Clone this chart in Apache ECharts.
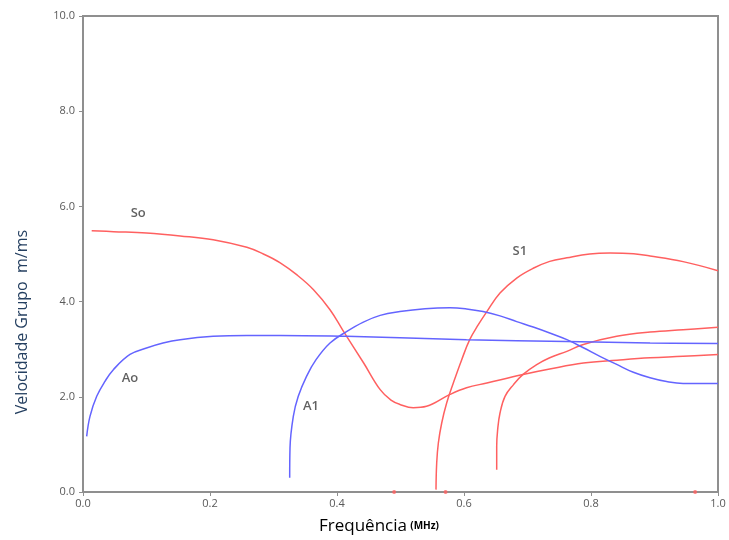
<!DOCTYPE html>
<html>
<head>
<meta charset="utf-8">
<script src="https://cdn.jsdelivr.net/npm/echarts@6/dist/echarts.min.js"></script>
<style>
	html, body { margin: 0; padding: 0; background: #fff; }
	#chart { width: 729px; height: 540px; }
</style>
</head>
<body>
<div id="chart"></div>
<script>
// group velocity dispersion curves, [freq MHz, velocity m/ms]
var s0 = [[0.0137,5.49],[0.048,5.47],[0.100,5.44],[0.153,5.38],[0.205,5.30],[0.258,5.14],[0.284,5.00],[0.310,4.82],[0.337,4.56],[0.363,4.25],[0.389,3.83],[0.410,3.38],[0.442,2.71],[0.468,2.15],[0.485,1.93],[0.499,1.84],[0.520,1.77],[0.541,1.80],[0.578,2.05],[0.604,2.19],[0.636,2.29],[0.693,2.47],[0.735,2.585],[0.788,2.71],[0.841,2.77],[0.893,2.82],[0.945,2.85],[1.0,2.89]];
var s1 = [[0.5559,0.05],[0.557,0.61],[0.5596,1.03],[0.5649,1.45],[0.5727,1.87],[0.5832,2.29],[0.5964,2.78],[0.609,3.20],[0.6226,3.515],[0.636,3.79],[0.6567,4.18],[0.683,4.495],[0.709,4.70],[0.735,4.845],[0.762,4.92],[0.798,5.0],[0.830,5.02],[0.867,5.005],[0.893,4.96],[0.945,4.84],[1.0,4.65]];
var s2 = [[0.6515,0.47],[0.6515,0.96],[0.653,1.31],[0.6567,1.66],[0.6646,2.01],[0.678,2.256],[0.693,2.47],[0.7145,2.676],[0.735,2.82],[0.762,2.955],[0.788,3.10],[0.8405,3.27],[0.893,3.36],[0.945,3.41],[1.0,3.46]];
var a0 = [[0.0058,1.17],[0.011,1.59],[0.0216,2.01],[0.0346,2.325],[0.0478,2.57],[0.074,2.89],[0.100,3.025],[0.126,3.13],[0.153,3.20],[0.205,3.27],[0.258,3.29],[0.310,3.29],[0.415,3.27],[0.499,3.24],[0.604,3.20],[0.762,3.16],[0.893,3.13],[1.0,3.12]];
var a1 = [[0.3255,0.30],[0.326,0.93],[0.3312,1.59],[0.339,2.01],[0.352,2.43],[0.367,2.78],[0.389,3.13],[0.415,3.37],[0.4415,3.57],[0.468,3.71],[0.499,3.79],[0.5386,3.85],[0.578,3.87],[0.604,3.845],[0.630,3.79],[0.6567,3.70],[0.683,3.58],[0.709,3.465],[0.735,3.34],[0.762,3.20],[0.788,3.03],[0.814,2.85],[0.8405,2.68],[0.8667,2.515],[0.893,2.40],[0.919,2.32],[0.945,2.28],[1.0,2.28]];
var cutoffDots = [[0.49,0],[0.571,0],[0.964,0]];
var modeLabels = [["So",0.087,5.85],["Ao",0.074,2.38],["A1",0.359,1.79],["S1",0.688,5.05]];

var red = "#ff6060";
var blue = "#6464ff";

function curve(data, color) {
	return {
		type: "line",
		data: data,
		smooth: 0.4,
		showSymbol: false,
		lineStyle: { color: color, width: 1.5 },
		animation: false
	};
}

var chart = echarts.init(document.getElementById("chart"));
chart.setOption({
	grid: {
		left: 83, right: 11, top: 16, bottom: 48,
		show: true, borderColor: "#8f8f8f", borderWidth: 2
	},
	xAxis: {
		type: "value", min: 0, max: 1, interval: 0.2,
		axisLine: { lineStyle: { color: "#8f8f8f", width: 2 } },
		axisTick: { show: true, length: 4, lineStyle: { color: "#8f8f8f" } },
		splitLine: { show: false },
		axisLabel: {
			color: "#595959", fontSize: 11, fontFamily: "Open Sans", margin: 6,
			formatter: function(v) { return v.toFixed(1); }
		}
	},
	yAxis: {
		type: "value", min: 0, max: 10, interval: 2,
		axisLine: { show: true, lineStyle: { color: "#8f8f8f", width: 2 } },
		axisTick: { show: true, length: 4, lineStyle: { color: "#8f8f8f" } },
		splitLine: { show: false },
		axisLabel: {
			color: "#595959", fontSize: 11, fontFamily: "Open Sans", margin: 8,
			formatter: function(v) { return v.toFixed(1); }
		}
	},
	graphic: [{
		type: "text", x: 22, y: 322, rotation: Math.PI / 2,
		style: {
			text: "Velocidade Grupo  m/ms", fill: "#243f60",
			font: "16px 'Open Sans'", align: "center", verticalAlign: "middle"
		}
	}, {
		type: "text", x: 379, y: 526,
		style: {
			text: "{a|Frequência} {b|(MHz)}",
			align: "center", verticalAlign: "middle",
			rich: {
				a: { fontSize: 17, fontFamily: "Open Sans", color: "#243f60" },
				b: { fontSize: 10, fontWeight: "bold", fontFamily: "Open Sans", color: "#333" }
			}
		}
	}],
	series: [
		curve(s0, red), curve(s1, red), curve(s2, red),
		curve(a0, blue), curve(a1, blue),
		{
			type: "scatter", data: cutoffDots, symbolSize: 4,
			itemStyle: { color: red }, animation: false
		},
		{
			type: "scatter", symbolSize: 0, animation: false,
			data: modeLabels.map(function(l) { return { value: [l[1], l[2]], name: l[0] }; }),
			label: {
				show: true, position: "inside", formatter: "{b}",
				color: "#3a3a3a", fontSize: 13, fontWeight: 600, fontFamily: "Open Sans"
			}
		}
	]
});
</script>
</body>
</html>
